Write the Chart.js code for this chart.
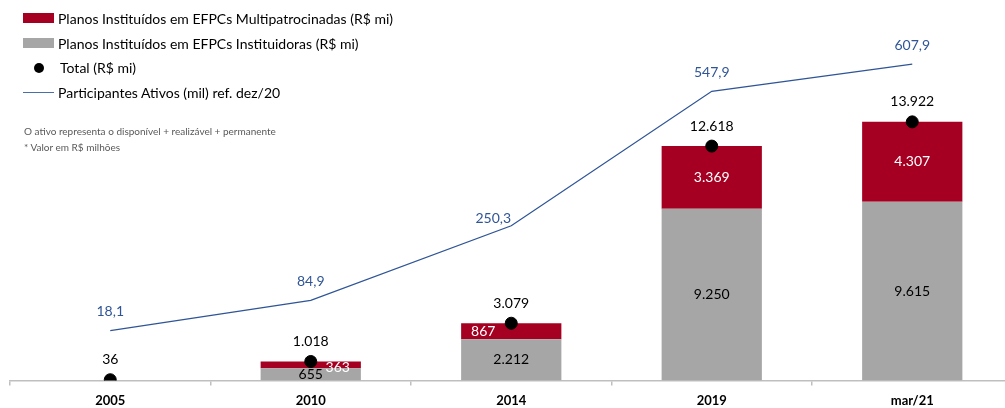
<!DOCTYPE html>
<html>
<head>
<meta charset="utf-8">
<script src="https://cdn.jsdelivr.net/npm/chart.js@4/dist/chart.umd.min.js"></script>
<style>
  html,body{ margin:0; padding:0; background:#fff; overflow:hidden; }
  #wrap{ position:relative; width:1005px; height:408px; overflow:hidden; font-family:Lato, "Open Sans", sans-serif; }
  #box{ position:absolute; left:0; top:0; width:1015px; height:417px; }
  .legend{ position:absolute; left:23px; top:6px; font-size:14px; color:#000; }
  .row{ height:24.8px; display:flex; align-items:center; }
  .sw{ width:31px; height:10px; margin-right:4px; }
  .dot{ width:10px; height:10px; border-radius:50%; background:#000; margin:0 16px 0 11px; }
  .ln{ width:31px; height:0; border-top:1.3px solid #4a6ea8; margin-right:4px; }
  .note{ position:absolute; left:24px; font-size:10px; color:#595959; }
</style>
</head>
<body>
<div id="wrap">
  <div id="box"><canvas id="c" width="1015" height="417"></canvas></div>
  <div class="legend">
    <div class="row"><div class="sw" style="background:#a50021"></div>Planos Instituídos em EFPCs Multipatrocinadas (R$ mi)</div>
    <div class="row"><div class="sw" style="background:#a6a6a6"></div>Planos Instituídos em EFPCs Instituidoras (R$ mi)</div>
    <div class="row"><div class="dot"></div>Total (R$ mi)</div>
    <div class="row"><div class="ln"></div>Participantes Ativos (mil) ref. dez/20</div>
  </div>
  <div class="note" style="top:125px">O ativo representa o disponível + realizável + permanente</div>
  <div class="note" style="top:141px">* Valor em R$ milhões</div>
</div>
<script>
// dados (R$ milhões / mil participantes)
const categories = ["2005","2010","2014","2019","mar/21"];
const instituidoras = [null, 655, 2212, 9250, 9615];
const multipatrocinadas = [null, 363, 867, 3369, 4307];
const totais = [36, 1018, 3079, 12618, 13922];
const participantes = [18.1, 84.9, 250.3, 547.9, 607.9];

const RED = "#a50021", GRAY = "#a6a6a6", BLUE = "#2f5597";
const FONT = "Lato, 'Open Sans', sans-serif";

function fmtBR(v, d){
  const s = v.toFixed(d);
  let [i, f] = s.split(".");
  i = i.replace(/\B(?=(\d{3})+(?!\d))/g, ".");
  return f ? i + "," + f : i;
}

// ajustes finos de posição dos rótulos (dx, dy em px)
const nudge = {
  mult: {1:[27,3], 2:[-28,0]},
  line: {2:[-18,12]}
};

const labelsPlugin = {
  id:"labels",
  afterDatasetsDraw(chart){
    const ctx = chart.ctx;
    ctx.save();
    ctx.textAlign = "center";
    ctx.textBaseline = "middle";
    ctx.font = "14px " + FONT;
    chart.data.datasets.forEach((ds, di)=>{
      const meta = chart.getDatasetMeta(di);
      meta.data.forEach((el, i)=>{
        const v = ds.data[i];
        if (v == null) return;
        let x = el.x, y = el.y, txt, color;
        if (ds.key === "inst" || ds.key === "mult"){
          const n = (nudge[ds.key] || {})[i] || [0,0];
          x += n[0]; y = (el.y + el.base)/2 + n[1];
          txt = fmtBR(v,0);
          color = ds.key === "mult" ? "#fff" : "#000";
        } else if (ds.key === "tot"){
          y -= 20; txt = fmtBR(v,0); color = "#000";
        } else {
          const n = nudge.line[i] || [0,0];
          x += n[0]; y += -19 + n[1];
          txt = fmtBR(v,1); color = BLUE;
        }
        ctx.fillStyle = color;
        ctx.fillText(txt, x, y);
      });
    });
    ctx.restore();
  }
};

new Chart(document.getElementById("c"), {
  data:{
    labels:categories,
    datasets:[
      {key:"line", type:"line", label:"Participantes Ativos (mil) ref. dez/20", data:participantes, yAxisID:"y2",
       borderColor:BLUE, borderWidth:1.3, pointRadius:0, tension:0, order:3},
      {key:"inst", type:"bar", label:"Planos Instituídos em EFPCs Instituidoras (R$ mi)", data:instituidoras, yAxisID:"y",
       backgroundColor:GRAY, barPercentage:0.5, categoryPercentage:1, order:2},
      {key:"mult", type:"bar", label:"Planos Instituídos em EFPCs Multipatrocinadas (R$ mi)", data:multipatrocinadas, yAxisID:"y",
       backgroundColor:RED, barPercentage:0.5, categoryPercentage:1, order:2},
      {key:"tot", type:"line", label:"Total (R$ mi)", data:totais, yAxisID:"y3", showLine:false,
       pointRadius:6, pointHoverRadius:6, pointBackgroundColor:"#000", pointBorderColor:"#000", order:1}
    ]
  },
  options:{
    responsive:false, animation:false,
    layout:{ autoPadding:false, padding:{ left:10, right:2.5, top:9, bottom:0 } },
    plugins:{ legend:{display:false}, tooltip:{enabled:false} },
    scales:{
      x:{ stacked:true,
          grid:{ display:true, drawOnChartArea:false, drawTicks:true, tickLength:5, color:"#bfbfbf", lineWidth:1.5, offset:true },
          border:{ display:true, color:"#bfbfbf", width:1.5 },
          ticks:{ color:"#000", font:{ family:FONT, size:13, weight:"bold" }, padding:8 } },
      y:{ stacked:true, display:false, min:0, max:20000 },
      y3:{ display:false, min:0, max:20000 },
      y2:{ display:false, min:-92, max:730 }
    }
  },
  plugins:[labelsPlugin]
});
</script>
</body>
</html>
